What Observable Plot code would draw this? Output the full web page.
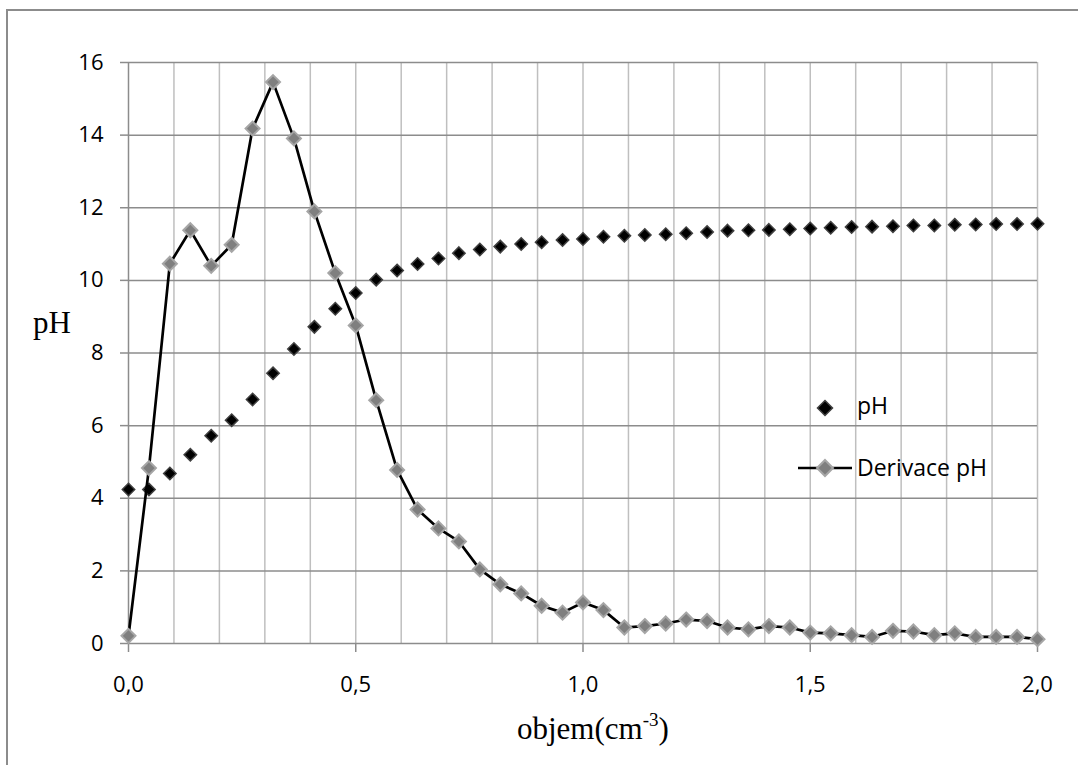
<!DOCTYPE html>
<html>
<head>
<meta charset="utf-8">
<script src="https://cdn.jsdelivr.net/npm/d3@7"></script>
<script src="https://cdn.jsdelivr.net/npm/@observablehq/plot@0.6"></script>
<style>
  html, body { margin: 0; padding: 0; background: #fff; }
  #wrap { position: relative; width: 1078px; height: 765px; overflow: hidden; background: #fff; }
  #frame { position: absolute; left: 6px; top: 9px; width: 1200px; height: 900px;
           border-left: 2px solid #8c8c8c; border-top: 2px solid #8c8c8c; }
  #chart { position: absolute; left: 0; top: 0; }
  .serif { position: absolute; font-family: "Liberation Serif", "Times New Roman", serif;
           font-size: 31px; line-height: 31px; color: #000; white-space: nowrap; }
  .serif .sup { font-size: 19px; position: relative; top: -13px; }
  .leg { position: absolute; font-family: "Open Sans", sans-serif; font-size: 23px;
         line-height: 23px; color: #000; white-space: nowrap; }
  .legsym { position: absolute; }
</style>
</head>
<body>
<div id="wrap">
  <div id="frame"></div>
  <div id="chart"></div>
  <div class="serif" id="ytitle" style="left:33px; top:307px;">pH</div>
  <div class="serif" id="xtitle" style="left:517px; top:713px;">objem(cm<span class="sup">-3</span>)</div>
  <svg class="legsym" style="left:815px; top:398px;" width="20" height="20">
    <polygon points="10,2.5 17.5,10 10,17.5 2.5,10" fill="#000" stroke="#404040" stroke-width="1.5"/>
  </svg>
  <div class="leg" style="left:857px; top:394px;">pH</div>
  <svg class="legsym" style="left:796px; top:458px;" width="58" height="20">
    <line x1="2" y1="10" x2="56" y2="10" stroke="#000" stroke-width="2.5"/>
    <polygon points="29,2 37,10 29,18 21,10" fill="#7f7f7f" stroke="#a6a6a6" stroke-width="2"/>
  </svg>
  <div class="leg" style="left:857px; top:456px;">Derivace pH</div>
</div>
<script>
// volume (cm^-3)
const volume = [0.000, 0.045, 0.091, 0.136, 0.182, 0.227, 0.273, 0.318, 0.364, 0.409,
  0.455, 0.500, 0.545, 0.591, 0.636, 0.682, 0.727, 0.773, 0.818, 0.864,
  0.909, 0.955, 1.000, 1.045, 1.091, 1.136, 1.182, 1.227, 1.273, 1.318,
  1.364, 1.409, 1.455, 1.500, 1.545, 1.591, 1.636, 1.682, 1.727, 1.773,
  1.818, 1.864, 1.909, 1.955, 2.000];
// series "pH"
const pHValues = [4.24, 4.24, 4.68, 5.20, 5.72, 6.15, 6.72, 7.44, 8.11, 8.72,
  9.22, 9.65, 10.02, 10.27, 10.45, 10.60, 10.75, 10.85, 10.93, 11.00,
  11.05, 11.11, 11.14, 11.20, 11.23, 11.25, 11.27, 11.30, 11.33, 11.37,
  11.38, 11.39, 11.41, 11.43, 11.45, 11.47, 11.48, 11.49, 11.51, 11.51,
  11.53, 11.54, 11.55, 11.55, 11.56];
// series "Derivace pH"
const derivValues = [0.21, 4.83, 10.46, 11.38, 10.40, 10.98, 14.18, 15.46, 13.91, 11.90,
  10.20, 8.76, 6.70, 4.78, 3.69, 3.17, 2.81, 2.04, 1.63, 1.38,
  1.04, 0.85, 1.13, 0.92, 0.44, 0.48, 0.55, 0.66, 0.62, 0.44,
  0.39, 0.48, 0.44, 0.30, 0.28, 0.23, 0.18, 0.35, 0.33, 0.23,
  0.28, 0.18, 0.18, 0.18, 0.12];
// ticks
const xTicks = [0, 0.5, 1.0, 1.5, 2.0];
const xTickLabels = ["0,0", "0,5", "1,0", "1,5", "2,0"];
const xGridLines = [0.1, 0.2, 0.3, 0.4, 0.5, 0.6, 0.7, 0.8, 0.9, 1.0,
  1.1, 1.2, 1.3, 1.4, 1.5, 1.6, 1.7, 1.8, 1.9, 2.0];
const yTicks = [0, 2, 4, 6, 8, 10, 12, 14, 16];

const pHData = volume.map((v, i) => ({x: v, y: pHValues[i]}));
const derivData = volume.map((v, i) => ({x: v, y: derivValues[i]}));

const chart = Plot.plot({
  width: 1078,
  height: 765,
  marginLeft: 128,
  marginRight: 41,
  marginTop: 62,
  marginBottom: 122,
  style: {fontFamily: "'Open Sans', sans-serif", fontSize: "22px", color: "#000", background: "transparent", overflow: "visible"},
  x: {domain: [0, 2], label: null},
  y: {domain: [0, 16], label: null},
  marks: [
    Plot.gridX(xGridLines, {stroke: "#bfbfbf", strokeOpacity: 1, strokeWidth: 1.5}),
    Plot.gridY(yTicks, {stroke: "#8c8c8c", strokeOpacity: 1, strokeWidth: 1.5}),
    Plot.ruleX([0], {stroke: "#8c8c8c", strokeWidth: 1.5}),
    Plot.axisY(yTicks, {tickSize: 8, tickPadding: 17, stroke: "#8c8c8c", strokeWidth: 1.5, strokeOpacity: 1, label: null, fontSize: 22}),
    Plot.axisX(xTicks, {tickSize: 9, tickPadding: 24, stroke: "#8c8c8c", strokeWidth: 1.5, strokeOpacity: 1, label: null, fontSize: 22,
      tickFormat: d => xTickLabels[xTicks.indexOf(d)]}),
    Plot.dot(pHData, {x: "x", y: "y", symbol: "diamond2", r: 5.6, fill: "#000", stroke: "#404040", strokeWidth: 1.5}),
    Plot.line(derivData, {x: "x", y: "y", stroke: "#000", strokeWidth: 2.7}),
    Plot.dot(derivData, {x: "x", y: "y", symbol: "diamond2", r: 6.3, fill: "#7f7f7f", stroke: "#a6a6a6", strokeWidth: 2})
  ]
});
document.getElementById("chart").appendChild(chart);
</script>
</body>
</html>
